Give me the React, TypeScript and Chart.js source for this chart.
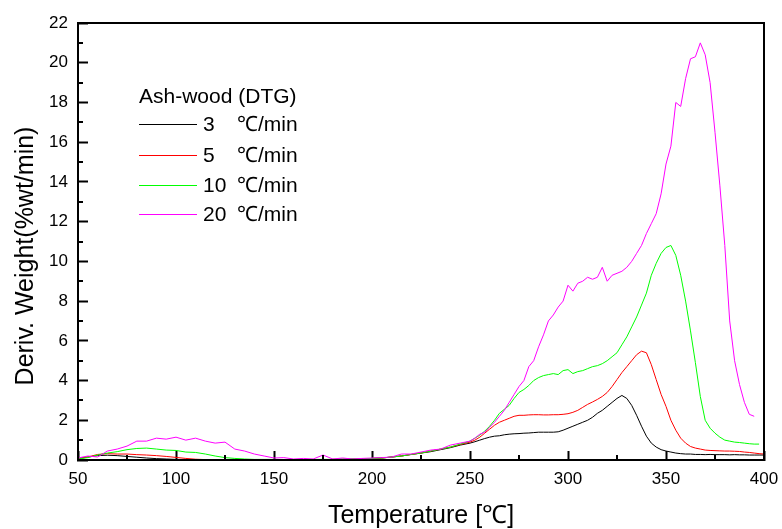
import React, { useEffect, useRef } from "react";
import { Chart, registerables } from "chart.js";

Chart.register(...registerables);

const FONT = "'Liberation Sans', Arial, Helvetica, sans-serif";

const temps = [
  50, 55, 60, 65, 70, 75, 80, 85, 90, 95, 100, 105, 110, 115, 120, 125, 130, 135, 140, 145,
  150, 155, 160, 165, 170, 175, 180, 185, 190, 195, 200, 205, 210, 215, 220, 225, 230, 235, 240, 245,
  250, 252.5, 255, 257.5, 260, 262.5, 265, 267.5, 270, 272.5, 275, 277.5, 280, 282.5, 285, 287.5,
  290, 292.5, 295, 297.5, 300, 302.5, 305, 307.5, 310, 312.5, 315, 317.5, 320, 322.5, 325, 327.5,
  330, 332.5, 335, 337.5, 340, 342.5, 345, 347.5, 350, 352.5, 355, 357.5, 360, 362.5, 365, 367.5,
  370, 372.5, 375, 377.5, 380, 382.5, 385, 387.5, 390, 392.5, 395, 397.5, 400,
];

const rate3 = [
  0.08, 0.15, 0.22, 0.24, 0.22, 0.18, 0.14, 0.1, 0.07, 0.05, 0.03, 0.02, 0.02, 0.02, 0.02, 0.02, 0.02, 0.02, 0.02, 0.02,
  0.02, 0.02, 0.02, 0.02, 0.02, 0.02, 0.03, 0.03, 0.04, 0.05, 0.08, 0.1, 0.15, 0.2, 0.28, 0.35, 0.42, 0.52, 0.62, 0.75,
  0.85, 0.92, 1.0, 1.08, 1.15, 1.2, 1.22, 1.27, 1.3, 1.32, 1.33, 1.35, 1.36, 1.38, 1.4, 1.4,
  1.4, 1.4, 1.42, 1.5, 1.6, 1.7, 1.8, 1.9, 2.0, 2.15, 2.35, 2.5, 2.7, 2.9, 3.1, 3.25,
  3.1, 2.75, 2.25, 1.7, 1.2, 0.85, 0.65, 0.52, 0.45, 0.4, 0.35, 0.32, 0.3, 0.3, 0.28, 0.28,
  0.27, 0.28, 0.27, 0.27, 0.27, 0.26, 0.27, 0.26, 0.26, 0.25, 0.25, 0.25, 0.25,
];

const rate5 = [
  0.05, 0.15, 0.28, 0.32, 0.3, 0.3, 0.27, 0.25, 0.22, 0.18, 0.13, 0.08, 0.04, 0.02, 0.02, 0.02, 0.02, 0.02, 0.02, 0.02,
  0.02, 0.02, 0.02, 0.02, 0.02, 0.02, 0.03, 0.03, 0.04, 0.05, 0.08, 0.1, 0.15, 0.2, 0.28, 0.35, 0.45, 0.55, 0.65, 0.78,
  0.9, 1.0, 1.15, 1.35, 1.55, 1.75, 1.9, 2.0, 2.1, 2.2, 2.25, 2.25, 2.27, 2.28, 2.28, 2.27,
  2.27, 2.28, 2.28, 2.3, 2.33, 2.4, 2.5, 2.65, 2.8, 2.92, 3.05, 3.2, 3.4, 3.7, 4.05, 4.4,
  4.7, 5.0, 5.3, 5.48, 5.4, 4.8, 4.05, 3.3, 2.7, 2.0, 1.5, 1.1, 0.85, 0.68, 0.6, 0.55,
  0.5, 0.48, 0.47, 0.46, 0.45, 0.45, 0.44, 0.43, 0.4, 0.38, 0.35, 0.32, 0.3,
];

const rate10 = [
  0.05, 0.12, 0.25, 0.35, 0.42, 0.52, 0.58, 0.6, 0.55, 0.5, 0.48, 0.4, 0.38, 0.3, 0.2, 0.12, 0.08, 0.05, 0.03, 0.03,
  0.03, 0.02, 0.02, 0.02, 0.03, 0.03, 0.03, 0.05, 0.05, 0.06, 0.08, 0.1, 0.15, 0.2, 0.28, 0.35, 0.45, 0.55, 0.65, 0.8,
  0.95, 1.1, 1.25, 1.45, 1.7, 2.0, 2.35, 2.55, 2.75, 3.1, 3.4, 3.55, 3.75, 4.0, 4.15, 4.25,
  4.3, 4.35, 4.3, 4.5, 4.55, 4.35, 4.45, 4.5, 4.6, 4.7, 4.75, 4.85, 5.0, 5.2, 5.4, 5.8,
  6.2, 6.7, 7.2, 7.8, 8.4, 9.3, 9.9, 10.4, 10.7, 10.8, 10.3, 9.3, 8.0, 6.5, 4.9, 3.2,
  2.0, 1.6, 1.35, 1.15, 1.0, 0.95, 0.9, 0.88, 0.85, 0.82, 0.8, 0.8, null,
];

const rate20 = [
  0.1, 0.2, 0.15, 0.45, 0.55, 0.7, 0.95, 0.95, 1.1, 1.05, 1.15, 1.0, 1.1, 0.95, 0.85, 0.9, 0.55, 0.45, 0.3, 0.2,
  0.1, 0.12, 0.05, 0.08, 0.05, 0.25, 0.05, 0.1, 0.05, 0.08, 0.1, 0.12, 0.15, 0.3, 0.3, 0.4, 0.5, 0.55, 0.75, 0.85,
  0.95, 1.1, 1.3, 1.4, 1.65, 1.9, 2.2, 2.5, 2.9, 3.3, 3.7, 4.0, 4.7, 5.0, 5.7, 6.3,
  7.0, 7.3, 7.7, 8.0, 8.8, 8.5, 8.9, 9.0, 9.2, 9.1, 9.2, 9.7, 9.0, 9.3, 9.4, 9.5,
  9.7, 10.0, 10.4, 10.8, 11.4, 11.9, 12.4, 13.4, 14.9, 15.8, 18.0, 17.8, 19.2, 20.2, 20.3, 21.0,
  20.4, 19.0, 16.5, 13.8, 10.8, 7.0, 5.0, 3.8, 2.9, 2.3, 2.2, null, null,
];

const rateLabels = ["3", "5", "10", "20"];
const unitLabel = "℃/min";
const legendTitle = "Ash-wood (DTG)";
const xTitle = "Temperature [℃]";
const yTitle = "Deriv. Weight(%wt/min)";
const colors = ["#000000", "#ff0000", "#00ff00", "#ff00ff"];
const seriesList = [rate3, rate5, rate10, rate20];

const decorPlugin = {
  id: "decor",
  afterDraw(chart: any) {
    const ctx: CanvasRenderingContext2D = chart.ctx;
    const a = chart.chartArea;
    const xs = chart.scales.x;
    const ys = chart.scales.y;
    ctx.save();
    ctx.fillStyle = "#000";
    // minor inward ticks
    for (let v = 75; v < 400; v += 50) {
      const px = Math.round(xs.getPixelForValue(v));
      ctx.fillRect(px - 1, a.bottom - 5, 2, 5);
    }
    for (let v = 1; v < 22; v += 2) {
      const py = Math.round(ys.getPixelForValue(v));
      ctx.fillRect(a.left, py - 1, 5, 2);
    }

    // axis titles
    ctx.font = `25px ${FONT}`;
    ctx.textAlign = "center";
    ctx.textBaseline = "alphabetic";
    ctx.fillText(xTitle, (a.left + a.right) / 2, 523);
    ctx.save();
    ctx.translate(33, 256);
    ctx.rotate(-Math.PI / 2);
    ctx.fillText(yTitle, 0, 0);
    ctx.restore();

    // legend
    ctx.font = `21px ${FONT}`;
    ctx.textAlign = "left";
    ctx.textBaseline = "middle";
    ctx.fillText(legendTitle, 139, 97);
    const rowY = [124, 155, 185, 214];
    rateLabels.forEach((lab, i) => {
      ctx.fillStyle = colors[i];
      ctx.fillRect(139, rowY[i], 58, 1);
      ctx.fillStyle = "#000";
      ctx.fillText(lab, 203, rowY[i] + 1);
      ctx.fillText(unitLabel, 237, rowY[i] + 1);
    });
    ctx.restore();
  },
};

const borderOpts = { display: true, width: 2, color: "#000" };

const zeroPad = (s: any) => {
  s.paddingTop = 0;
  s.paddingBottom = 0;
  s.paddingLeft = 0;
  s.paddingRight = 0;
};

export default function App() {
  const ref = useRef<HTMLCanvasElement | null>(null);
  const frameRef = useRef<HTMLDivElement | null>(null);
  useEffect(() => {
    document.body.style.margin = "0";
    if (!ref.current) return;
    const chart = new Chart(ref.current, {
      type: "line",
      data: {
        datasets: seriesList.map((s, i) => ({
          label: rateLabels[i] + " " + unitLabel,
          data: temps.map((t, j) => ({ x: t, y: s[j] })),
          borderColor: colors[i],
          backgroundColor: colors[i],
          borderWidth: 1,
          pointRadius: 0,
          tension: 0,
          spanGaps: false,
          order: 3 - i,
          xAxisID: "x",
          yAxisID: "y",
        })),
      },
      options: {
        animation: false,
        responsive: false,
        devicePixelRatio: 1,
        layout: { padding: { top: 23, right: 18, left: 0, bottom: 0 } },
        plugins: { legend: { display: false }, tooltip: { enabled: false } },
        scales: {
          x: {
            type: "linear",
            position: "bottom",
            min: 50,
            max: 400,
            ticks: { stepSize: 50, padding: 18, color: "#000", maxRotation: 0, font: { size: 17, family: FONT } },
            grid: { display: true, drawOnChartArea: false, drawTicks: true, tickLength: -9, tickWidth: 2, tickColor: "#000" },
            border: borderOpts,
            afterFit: (s: any) => {
              s.height = 69;
              zeroPad(s);
            },
          },
          y: {
            type: "linear",
            position: "left",
            min: 0,
            max: 22,
            ticks: { stepSize: 2, padding: 20, color: "#000", font: { size: 17, family: FONT } },
            grid: { display: true, drawOnChartArea: false, drawTicks: true, tickLength: -10, tickWidth: 2, tickColor: "#000" },
            border: borderOpts,
            afterFit: (s: any) => {
              s.width = 78;
              zeroPad(s);
            },
          },
          xTop: {
            type: "linear",
            position: "top",
            min: 50,
            max: 400,
            ticks: { display: false },
            grid: { display: false, drawTicks: false },
            border: borderOpts,
            afterFit: (s: any) => {
              s.height = 0;
              zeroPad(s);
            },
          },
          yRight: {
            type: "linear",
            position: "right",
            min: 0,
            max: 22,
            ticks: { display: false },
            grid: { display: false, drawTicks: false },
            border: borderOpts,
            afterFit: (s: any) => {
              s.width = 0;
              zeroPad(s);
            },
          },
        },
      },
      plugins: [decorPlugin],
    });
    const a = chart.chartArea;
    if (frameRef.current && a) {
      const L = Math.round(a.left);
      const T = Math.round(a.top);
      const R = Math.round(a.right);
      const B = Math.round(a.bottom);
      const st = frameRef.current.style;
      st.left = `${L - 1}px`;
      st.top = `${T - 1}px`;
      st.width = `${R - L + 2}px`;
      st.height = `${B - T + 2}px`;
      st.display = "block";
    }
    return () => chart.destroy();
  }, []);
  return (
    <div style={{ position: "relative", width: 782, height: 529, background: "#fff" }}>
      <canvas ref={ref} width={782} height={529} style={{ display: "block" }} />
      <div
        ref={frameRef}
        style={{
          position: "absolute",
          display: "none",
          boxSizing: "border-box",
          border: "2px solid #000",
          pointerEvents: "none",
        }}
      />
    </div>
  );
}
